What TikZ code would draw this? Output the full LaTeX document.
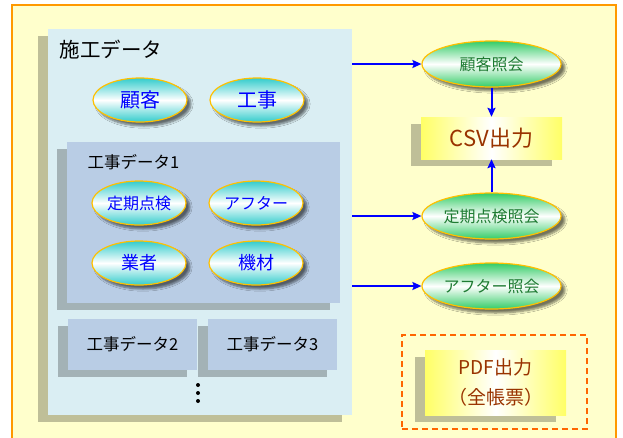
\documentclass[tikz,border=0pt]{standalone}
\usepackage{fontspec}
\setmainfont{Noto Sans CJK JP}
\usetikzlibrary{shapes.geometric,shadows,shadows.blur,arrows.meta}
\definecolor{paper}{HTML}{FFFFCC}
\definecolor{paperedge}{HTML}{FF9900}
\definecolor{shikoblue}{HTML}{DAEEF3}
\definecolor{kojiblue}{HTML}{B9CDE5}
\definecolor{ellcyan}{HTML}{33CCCC}
\definecolor{ellgreen}{HTML}{33CC66}
\definecolor{ellgold}{HTML}{FFC000}
\definecolor{refgreen}{HTML}{1E7B32}
\definecolor{outyellow}{HTML}{FFFF66}
\definecolor{outbrown}{HTML}{993300}
\definecolor{dashorange}{HTML}{FF6600}

\tikzset{
  boxshadow/.style={drop shadow={shadow xshift=-10pt,shadow yshift=-7pt,fill=black,opacity=.25}},
  ellshadow/.style={blur shadow={shadow xshift=4pt,shadow yshift=-4pt,shadow opacity=55,shadow blur steps=6}},
  databox/.style={rectangle,inner sep=0pt,boxshadow},
  dataell/.style={ellipse,draw=ellgold,line width=1.2pt,top color=ellcyan,bottom color=ellcyan,
    middle color=white,minimum width=94pt,minimum height=44pt,inner sep=0pt,text=blue,ellshadow},
  refell/.style={ellipse,draw=ellgold,line width=1.2pt,top color=ellgreen,bottom color=ellgreen,
    middle color=white,minimum width=139pt,minimum height=46pt,inner sep=0pt,text=refgreen,
    font=\fontsize{16}{18}\selectfont,ellshadow},
  outbox/.style={rectangle,inner sep=0pt,left color=outyellow,right color=outyellow,
    middle color=white,minimum width=141pt,text=outbrown,boxshadow},
  flow/.style={->,draw=blue,line width=2pt}
}

\begin{document}
\begin{tikzpicture}[x=1pt, y=-1pt, >={Stealth[length=9pt,width=8pt,inset=1.5pt]}]
        \clip (0,0) rectangle (623,437);
        
        % frame
        \draw[paperedge, fill=paper, line width=1.5pt] (12,5) rectangle (616,450);
        
        % data side
        \node[databox, fill=shikoblue, minimum width=304pt, minimum height=386pt] (shiko) at (200,222) {};
        \node[anchor=west, font=\fontsize{20.5}{24}\selectfont] (shikotitle) at (56,50) {施工データ};
        \node[dataell, font=\fontsize{20}{24}\selectfont] (kokyaku) at (140,100) {顧客};
        \node[dataell, font=\fontsize{20}{24}\selectfont] (koji) at (257,100) {工事};
        
        \node[databox, fill=kojiblue, minimum width=273pt, minimum height=161pt] (koji1) at (203.5,222.5) {};
        \node[anchor=west, font=\fontsize{16.5}{20}\selectfont] (koji1title) at (84,162) {工事データ1};
        \node[dataell, font=\fontsize{16}{18}\selectfont] (teiki) at (139,203) {定期点検};
        \node[dataell, font=\fontsize{16}{18}\selectfont] (after) at (256,203) {アフター};
        \node[dataell, font=\fontsize{18}{20}\selectfont] (gyosha) at (139,263) {業者};
        \node[dataell, font=\fontsize{18}{20}\selectfont] (kizai) at (256,263) {機材};
        
        \node[databox, fill=kojiblue, minimum width=129pt, minimum height=51pt, font=\fontsize{16.5}{20}\selectfont] (koji2) at (132.5,344.5) {工事データ2};
        \node[databox, fill=kojiblue, minimum width=129pt, minimum height=51pt, font=\fontsize{16.5}{20}\selectfont] (koji3) at (272.5,344.5) {工事データ3};
        \foreach \y in {385,393,401}
            \fill (198,\y) circle (2);
        
        % output side
        \node[refell] (kokyakuref) at (491.5,64) {顧客照会};
        \node[outbox, minimum height=42pt, font=\fontsize{22}{24}\selectfont] (csv) at (491.5,138) {CSV出力};
        \node[refell] (teikiref) at (491.5,216) {定期点検照会};
        \node[refell] (afterref) at (491.5,286) {アフター照会};
        \node[draw=dashorange, dash pattern=on 6pt off 4pt, line width=1.5pt, minimum width=185pt, minimum height=94pt] (pdfframe) at (494.5,382) {};
        \node[outbox, minimum height=65pt, align=center, font=\fontsize{19}{30}\selectfont] (pdf) at (495.5,382.5) {PDF出力\\（全帳票）};
        
        % arrows
        \draw[flow] (shiko.east |- kokyakuref) -- (kokyakuref);
        \draw[flow] (shiko.east |- teikiref) -- (teikiref);
        \draw[flow] (shiko.east |- afterref) -- (afterref);
        \draw[flow] (kokyakuref) -- (csv);
        \draw[flow] (teikiref) -- (csv);
    \end{tikzpicture}
\end{document}
